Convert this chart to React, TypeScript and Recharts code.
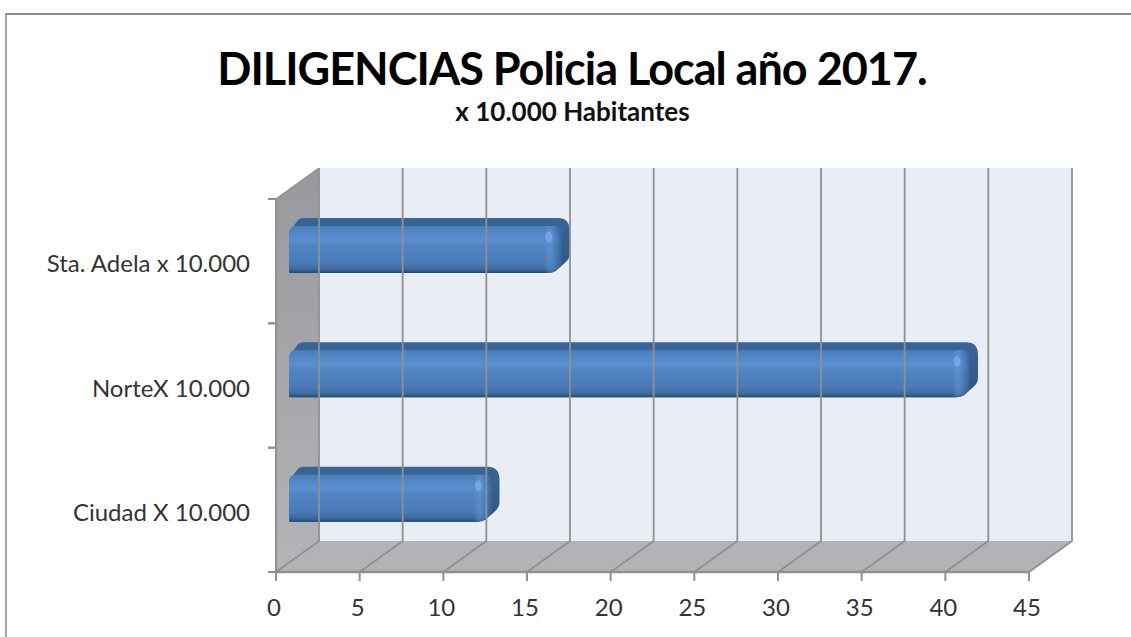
import { BarChart, Bar, XAxis, YAxis, ReferenceArea, ReferenceLine } from 'recharts'

const categories = ['Sta. Adela x 10.000', 'NorteX 10.000', 'Ciudad X 10.000']
const values = [16.3, 40.7, 12.1]
const xTicks = [0, 5, 10, 15, 20, 25, 30, 35, 40, 45]
const title = 'DILIGENCIAS Policia Local año 2017.'
const subtitle = 'x 10.000 Habitantes'

const data = categories.map((name, i) => ({ name, value: values[i] }))

const fontFamily = 'Lato, "Open Sans", sans-serif'
const lineColor = '#8f9092'
// how far the back wall sits from the front of the box
const depthX = 43
const depthY = 31

function Walls({ x, y, width, height }: any) {
  const bottom = y + height
  const right = x + width
  return (
    <g>
      <polygon
        points={`${x + depthX},${y - depthY} ${right + depthX},${y - depthY} ${right + depthX},${bottom - depthY} ${x + depthX},${bottom - depthY}`}
        fill="#e8edf6"
      />
      <polygon
        points={`${x},${y} ${x + depthX},${y - depthY} ${x + depthX},${bottom - depthY} ${x},${bottom}`}
        fill="url(#sideWall)"
      />
      <polygon
        points={`${x},${bottom} ${x + depthX},${bottom - depthY} ${right + depthX},${bottom - depthY} ${right},${bottom}`}
        fill="#b1b3b6"
      />
      <line x1={x} y1={y} x2={x + depthX} y2={y - depthY} stroke={lineColor} strokeWidth={1.5} />
      <line x1={x} y1={y} x2={x} y2={bottom} stroke={lineColor} strokeWidth={2} />
    </g>
  )
}

function GridLine({ x1, y1, y2 }: any) {
  const top = Math.min(y1, y2)
  const bottom = Math.max(y1, y2)
  return (
    <polyline
      points={`${x1},${bottom} ${x1 + depthX},${bottom - depthY} ${x1 + depthX},${top - depthY}`}
      fill="none"
      stroke={lineColor}
      strokeWidth={1.8}
    />
  )
}

// category label plus the small ticks on the band edges
function CategoryTick({ x, y, payload }: any) {
  const axisX = x + 26
  const half = payload.offset
  return (
    <g>
      <text x={x} y={y + 11} textAnchor="end" fill="#333333" fontSize={24} fontFamily={fontFamily}>
        {payload.value}
      </text>
      <line x1={axisX - 8} y1={y - half} x2={axisX} y2={y - half} stroke={lineColor} strokeWidth={2} />
      <line x1={axisX - 8} y1={y + half} x2={axisX} y2={y + half} stroke={lineColor} strokeWidth={2} />
    </g>
  )
}

function RoundedBar({ x, y, width, height }: any) {
  const left = x + 13
  const top = y - 12
  const right = left + width
  const bottom = top + height
  const back = top - 8
  const frontEdge = `M${left},${top + 7} Q${left},${top} ${left + 7},${top} L${right - 8},${top} Q${right},${top} ${right},${top + 8}
            L${right},${bottom - 14} Q${right},${bottom - 7} ${right - 5},${bottom - 4} Q${right - 10},${bottom} ${right - 14},${bottom}
            L${left + 3},${bottom} Q${left},${bottom} ${left},${bottom - 3} Z`
  const bevelEdge = `M${right - 18},${top} L${right - 8},${top} Q${right},${top} ${right},${top + 8}
            L${right},${bottom - 14} Q${right},${bottom - 7} ${right - 5},${bottom - 4} Q${right - 10},${bottom} ${right - 14},${bottom}
            L${right - 18},${bottom} Z`
  return (
    <g filter="url(#soften)">
      <path
        d={`M${left},${top + 6} L${left + 9},${back + 2} Q${left + 11},${back} ${left + 14},${back}
            L${right - 4},${back} Q${right + 8},${back} ${right + 8},${back + 13}
            L${right + 8},${bottom - 20} Q${right + 8},${bottom - 14} ${right + 3},${bottom - 10}
            L${right - 6},${bottom - 2} Q${right - 9},${bottom} ${right - 14},${bottom} L${left},${bottom} Z`}
        fill="url(#barSide)"
      />
      <path d={frontEdge} fill="url(#barFront)" />
      <path d={bevelEdge} fill="url(#barBevel)" />
      <ellipse cx={right - 13} cy={top + 11} rx={3.5} ry={5.5} fill="#74a8e6" opacity={0.85} />
    </g>
  )
}

export default function App() {
  return (
    <div style={{ position: 'absolute', left: 0, top: 0, width: 1131, height: 637, background: '#ffffff', overflow: 'hidden', fontFamily }}>
      <div style={{ position: 'absolute', left: 5, top: 13, width: 1140, height: 640, borderTop: '2px solid #8a8a8a', borderLeft: '2px solid #a5a5a5' }} />
      <div style={{ position: 'absolute', left: 0, width: 1144, top: 41, textAlign: 'center', fontSize: 45, fontWeight: 700, letterSpacing: -1, color: '#000', lineHeight: '54px', whiteSpace: 'nowrap' }}>
        {title}
      </div>
      <div style={{ position: 'absolute', left: 0, width: 1145, top: 96, textAlign: 'center', fontSize: 26, fontWeight: 700, color: '#111', lineHeight: '30px', whiteSpace: 'nowrap' }}>
        {subtitle}
      </div>
      <div style={{ position: 'absolute', left: 0, top: 0 }}>
        <BarChart
          width={1131}
          height={637}
          data={data}
          layout="vertical"
          margin={{ top: 199, right: 102, bottom: 0, left: 0 }}
        >
          <defs>
            <linearGradient id="sideWall" x1="0" y1="0" x2="0" y2="1">
              <stop offset="0%" stopColor="#97999c" />
              <stop offset="100%" stopColor="#b2b4b7" />
            </linearGradient>
            <linearGradient id="barFront" x1="0" y1="0" x2="0" y2="1">
              <stop offset="0%" stopColor="#4a7fbc" />
              <stop offset="30%" stopColor="#5a8fd1" />
              <stop offset="42%" stopColor="#5084c3" />
              <stop offset="80%" stopColor="#4a7ab5" />
              <stop offset="93%" stopColor="#3c689d" />
              <stop offset="100%" stopColor="#24466f" />
            </linearGradient>
            <linearGradient id="barSide" x1="0" y1="0" x2="0" y2="1">
              <stop offset="0%" stopColor="#3a6597" />
              <stop offset="100%" stopColor="#2f5583" />
            </linearGradient>
            <linearGradient id="barBevel" x1="0" y1="0" x2="1" y2="0">
              <stop offset="0" stopColor="#6a9ede" stopOpacity={0} />
              <stop offset="0.35" stopColor="#6a9ede" stopOpacity={0.4} />
              <stop offset="0.7" stopColor="#3f6fa8" stopOpacity={0.5} />
              <stop offset="1" stopColor="#335c8d" stopOpacity={0.9} />
            </linearGradient>
            <filter id="soften" x="-5%" y="-10%" width="110%" height="120%">
              <feGaussianBlur stdDeviation="0.7" />
            </filter>
          </defs>
          <XAxis
            type="number"
            dataKey="value"
            domain={[0, 45]}
            ticks={xTicks}
            interval={0}
            height={65}
            tickSize={9}
            tickMargin={18}
            axisLine={{ stroke: lineColor, strokeWidth: 2.5 }}
            tickLine={{ stroke: lineColor, strokeWidth: 2 }}
            tick={{ fill: '#333333', fontSize: 24, fontFamily, dx: -2 }}
          />
          <YAxis
            type="category"
            dataKey="name"
            width={276}
            tickSize={0}
            tickMargin={26}
            axisLine={false}
            tick={<CategoryTick />}
          />
          <ReferenceArea x1={0} x2={45} ifOverflow="visible" shape={<Walls />} />
          {xTicks.map((t) => (
            <ReferenceLine key={t} x={t} ifOverflow="visible" shape={<GridLine />} />
          ))}
          <Bar dataKey="value" barSize={47} shape={<RoundedBar />} isAnimationActive={false} />
        </BarChart>
      </div>
    </div>
  )
}
